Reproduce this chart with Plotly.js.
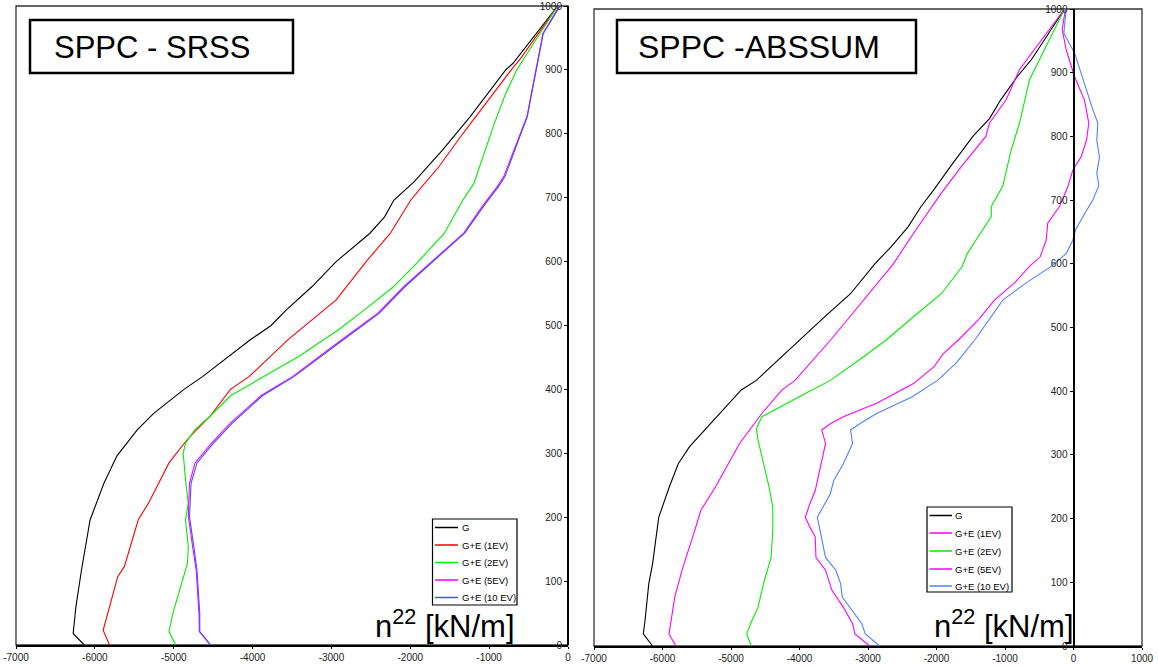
<!DOCTYPE html>
<html><head><meta charset="utf-8">
<script src="https://cdn.plot.ly/plotly-3.0.1.min.js"></script>
<style>html,body{margin:0;padding:0;background:#fff}#chart{width:1158px;height:666px}</style>
</head><body><div id="chart"></div>
<script>
// ---------- Left panel: SPPC - SRSS ----------
const srssG_y = [0,18,60,117,196,253,296,311,327,337,363,381,400,420,478,500,524,561,600,644,670,696,725,774,827,900,910,1000];
const srssG_x = [-6135,-6275,-6240,-6170,-6060,-5885,-5720,-5625,-5530,-5460,-5250,-5070,-4870,-4635,-4025,-3765,-3575,-3245,-2940,-2515,-2325,-2210,-1950,-1595,-1240,-790,-700,-130];

const srss1_y = [0,23,107,123,196,222,285,322,358,400,420,478,540,600,644,696,717,748,800,827,900,918,1000];
const srss1_x = [-5815,-5895,-5710,-5625,-5450,-5320,-5060,-4825,-4540,-4280,-4045,-3550,-2940,-2560,-2255,-1995,-1855,-1640,-1335,-1170,-720,-600,-130];

const srss2_y = [0,21,50,97,128,154,196,222,258,300,316,337,358,390,417,452,493,524,561,600,644,696,722,800,816,863,900,941,1000];
const srss2_x = [-4975,-5060,-5010,-4895,-4825,-4815,-4850,-4815,-4850,-4880,-4850,-4730,-4540,-4280,-3905,-3410,-2915,-2585,-2210,-1900,-1570,-1335,-1195,-980,-935,-790,-650,-440,-130];

const srss5_y = [0,21,50,117,154,201,253,285,316,347,390,420,478,519,561,600,645,686,717,733,775,801,827,863,905,957,1000];
const srss5_x = [-4535,-4675,-4680,-4715,-4760,-4815,-4800,-4730,-4520,-4285,-3895,-3495,-2865,-2415,-2080,-1725,-1320,-1090,-900,-815,-685,-605,-520,-465,-400,-318,-110];

const srss10_y = [0,21,50,117,154,201,253,285,316,347,390,420,478,519,561,600,645,686,717,733,775,801,827,863,905,957,1000];
const srss10_x = [-4530,-4670,-4670,-4705,-4745,-4800,-4780,-4705,-4495,-4260,-3875,-3475,-2845,-2395,-2065,-1710,-1307,-1074,-884,-800,-672,-596,-516,-461,-397,-313,-100];

// ---------- Right panel: SPPC -ABSSUM ----------
const absG_y = [0,19,40,98,129,202,250,286,313,365,402,417,480,517,553,600,627,658,690,716,753,800,828,857,894,920,1000];
const absG_x = [-6145,-6280,-6255,-6200,-6145,-6055,-5900,-5770,-5605,-5170,-4850,-4630,-4010,-3630,-3255,-2900,-2660,-2415,-2225,-2040,-1795,-1470,-1226,-1065,-820,-618,-130];

const abs1_y = [0,19,77,119,181,213,250,286,318,365,402,417,480,522,553,600,648,690,711,753,800,821,857,905,1000];
const abs1_x = [-5805,-5905,-5820,-5715,-5530,-5440,-5225,-5040,-4875,-4550,-4255,-4065,-3550,-3225,-2985,-2630,-2335,-2065,-1930,-1635,-1280,-1226,-985,-788,-130];

const abs2_y = [0,19,35,61,98,139,181,218,250,286,323,341,360,391,417,454,480,522,553,595,616,648,674,690,722,779,821,889,920,1000];
const abs2_x = [-4705,-4770,-4715,-4605,-4525,-4415,-4390,-4390,-4445,-4525,-4605,-4630,-4550,-4010,-3550,-3065,-2740,-2280,-1930,-1630,-1550,-1360,-1200,-1200,-1032,-910,-788,-642,-496,-130];

const abs5_y = [0,19,35,61,87,119,139,171,187,202,223,244,286,318,339,349,360,381,412,438,459,480,512,543,554,570,596,611,637,664,690,721,747,768,794,821,857,894,936,968,1000];
const abs5_x = [-2975,-3190,-3225,-3360,-3525,-3620,-3760,-3770,-3850,-3915,-3850,-3770,-3685,-3620,-3675,-3550,-3360,-2875,-2335,-2040,-1900,-1685,-1390,-1153,-1036,-861,-642,-486,-399,-375,-204,-83,-10,112,190,223,160,15,-107,-165,-117];

const abs10_y = [0,19,35,77,98,119,139,171,202,239,260,286,318,339,349,365,391,417,444,480,501,527,543,570,596,616,637,653,674,700,723,742,768,794,821,842,884,931,962,1000];
const abs10_x = [-2830,-3040,-3090,-3375,-3400,-3470,-3620,-3685,-3740,-3550,-3500,-3360,-3225,-3255,-3120,-2875,-2360,-1985,-1715,-1445,-1310,-1145,-1032,-691,-326,-107,-10,29,136,282,370,340,379,340,355,282,160,15,-141,-107];

// ---------- Tick labels and legend names ----------
const xTickValsL = [-7000,-6000,-5000,-4000,-3000,-2000,-1000,0];
const xTickTextL = ['-7000','-6000','-5000','-4000','-3000','-2000','-1000','0'];
const xTickValsR = [-7000,-6000,-5000,-4000,-3000,-2000,-1000,0,1000];
const xTickTextR = ['-7000','-6000','-5000','-4000','-3000','-2000','-1000','0','1000'];
const yTickVals = [0,100,200,300,400,500,600,700,800,900,1000];
const yTickText = ['0','100','200','300','400','500','600','700','800','900','1000'];
const legendNames = ['G','G+E (1EV)','G+E (2EV)','G+E (5EV)','G+E (10 EV)'];
const colorsL = ['#000000','#ff0000','#00ee00','#ff00ff','#4050ff'];
const colorsR = ['#000000','#ff00ff','#00ee00','#ff00ff','#4f80ff'];

const W = 1158, H = 666;
const px = v => v / W, py = v => 1 - v / H;
const FONT = 'Liberation Sans, Arial, sans-serif';

function tr(x, y, name, color, xa, ya) {
  return {x: x, y: y, name: name, type: 'scatter', mode: 'lines', showlegend: false,
    line: {color: color, width: 1.1}, xaxis: xa, yaxis: ya};
}

const data = [
  tr(srssG_x, srssG_y, legendNames[0], colorsL[0], 'x', 'y'),
  tr(srss1_x, srss1_y, legendNames[1], colorsL[1], 'x', 'y'),
  tr(srss2_x, srss2_y, legendNames[2], colorsL[2], 'x', 'y'),
  tr(srss5_x, srss5_y, legendNames[3], colorsL[3], 'x', 'y'),
  tr(srss10_x, srss10_y, legendNames[4], colorsL[4], 'x', 'y'),
  tr(absG_x, absG_y, legendNames[0], colorsR[0], 'x2', 'y2'),
  tr(abs1_x, abs1_y, legendNames[1], colorsR[1], 'x2', 'y2'),
  tr(abs2_x, abs2_y, legendNames[2], colorsR[2], 'x2', 'y2'),
  tr(abs5_x, abs5_y, legendNames[3], colorsR[3], 'x2', 'y2'),
  tr(abs10_x, abs10_y, legendNames[4], colorsR[4], 'x2', 'y2')
];

const tickFont = {family: FONT, size: 10, color: '#222'};
const xdomL = [px(16), px(568)], xdomR = [px(594), px(1142)];
const ydomL = [1 - 645/H, 1 - 6/H], ydomR = [1 - 646/H, 1 - 9/H];

function xax(dom, range, anchor, tv, tt) {
  return {domain: dom, range: range, tickmode: 'array', tickvals: tv, ticktext: tt, anchor: anchor,
    showgrid: false, zeroline: false, showline: true, linecolor: '#000', linewidth: 2,
    ticks: 'outside', ticklen: 2, tickcolor: '#000', tickfont: tickFont, fixedrange: true};
}
function yax(dom, pos) {
  return {domain: dom, range: [0, 1000], tickmode: 'array', tickvals: yTickVals, ticktext: yTickText,
    anchor: 'free', position: pos, side: 'left',
    showgrid: false, zeroline: false, showline: true, linecolor: '#000', linewidth: 2,
    ticks: 'outside', ticklen: 3, tickcolor: '#000', tickfont: tickFont, fixedrange: true};
}

const frame = (xr, yr) => ({type: 'rect', xref: xr + ' domain', yref: yr + ' domain',
  x0: 0, x1: 1, y0: 0, y1: 1, line: {color: '#333', width: 1.3}, layer: 'below'});
const box = (x0, x1, y0, y1, w) => ({type: 'rect', xref: 'paper', yref: 'paper',
  x0: px(x0), x1: px(x1), y0: py(y1), y1: py(y0), line: {color: '#000', width: w},
  fillcolor: 'rgba(0,0,0,0)'});

const shapes = [frame('x', 'y'), frame('x2', 'y2'),
  box(30, 293, 20, 73, 2.5), box(617, 916, 20, 73, 2.5)];
const annotations = [
  {xref: 'paper', yref: 'paper', x: px(52), y: py(47), xanchor: 'left', yanchor: 'middle',
    text: 'SPPC - SRSS', showarrow: false, font: {family: FONT, size: 31, color: '#000'}},
  {xref: 'paper', yref: 'paper', x: px(759), y: py(47), xanchor: 'center', yanchor: 'middle',
    text: 'SPPC -ABSSUM', showarrow: false, font: {family: FONT, size: 32, color: '#000'}},
  {xref: 'paper', yref: 'paper', x: px(517), y: py(646), xanchor: 'right', yanchor: 'bottom',
    text: 'n<sup>22</sup> [kN/m]', showarrow: false, font: {family: FONT, size: 31, color: '#000'}},
  {xref: 'paper', yref: 'paper', x: px(1076), y: py(646), xanchor: 'right', yanchor: 'bottom',
    text: 'n<sup>22</sup> [kN/m]', showarrow: false, font: {family: FONT, size: 31, color: '#000'}}
];

// Legend boxes (drawn as layout shapes + text)
function legend(bx0, bx1, by0, by1, rows, lx0, lx1, tx, colors) {
  shapes.push({type: 'rect', xref: 'paper', yref: 'paper', x0: px(bx0), x1: px(bx1),
    y0: py(by1), y1: py(by0), line: {color: '#000', width: 1.2}, fillcolor: '#fff'});
  legendNames.forEach((nm, i) => {
    shapes.push({type: 'line', xref: 'paper', yref: 'paper', x0: px(lx0), x1: px(lx1),
      y0: py(rows[i]), y1: py(rows[i]), line: {color: colors[i], width: 1.5}});
    annotations.push({xref: 'paper', yref: 'paper', x: px(tx), y: py(rows[i]), xanchor: 'left',
      yanchor: 'middle', text: nm, showarrow: false, font: {family: FONT, size: 9.5, color: '#000'}});
  });
}
legend(432.5, 517, 519, 605, [527.5, 545, 562.5, 580, 597.5], 435, 458, 459.5, colorsL);
legend(927, 1012, 507, 592, [515.5, 533, 551, 569, 586], 929.5, 952, 953, colorsR);

const layout = {
  width: W, height: H, margin: {l: 0, r: 0, t: 0, b: 0},
  paper_bgcolor: '#fff', plot_bgcolor: '#fff',
  font: {family: FONT}, showlegend: false,
  xaxis: xax(xdomL, [-7000, 0], 'y', xTickValsL, xTickTextL),
  yaxis: yax(ydomL, xdomL[1]),
  xaxis2: xax(xdomR, [-7000, 1000], 'y2', xTickValsR, xTickTextR),
  yaxis2: yax(ydomR, px(594) + (7/8) * (px(1142) - px(594))),
  shapes: shapes,
  annotations: annotations
};

Plotly.newPlot('chart', data, layout, {displayModeBar: false, staticPlot: true});
</script>
</body></html>
